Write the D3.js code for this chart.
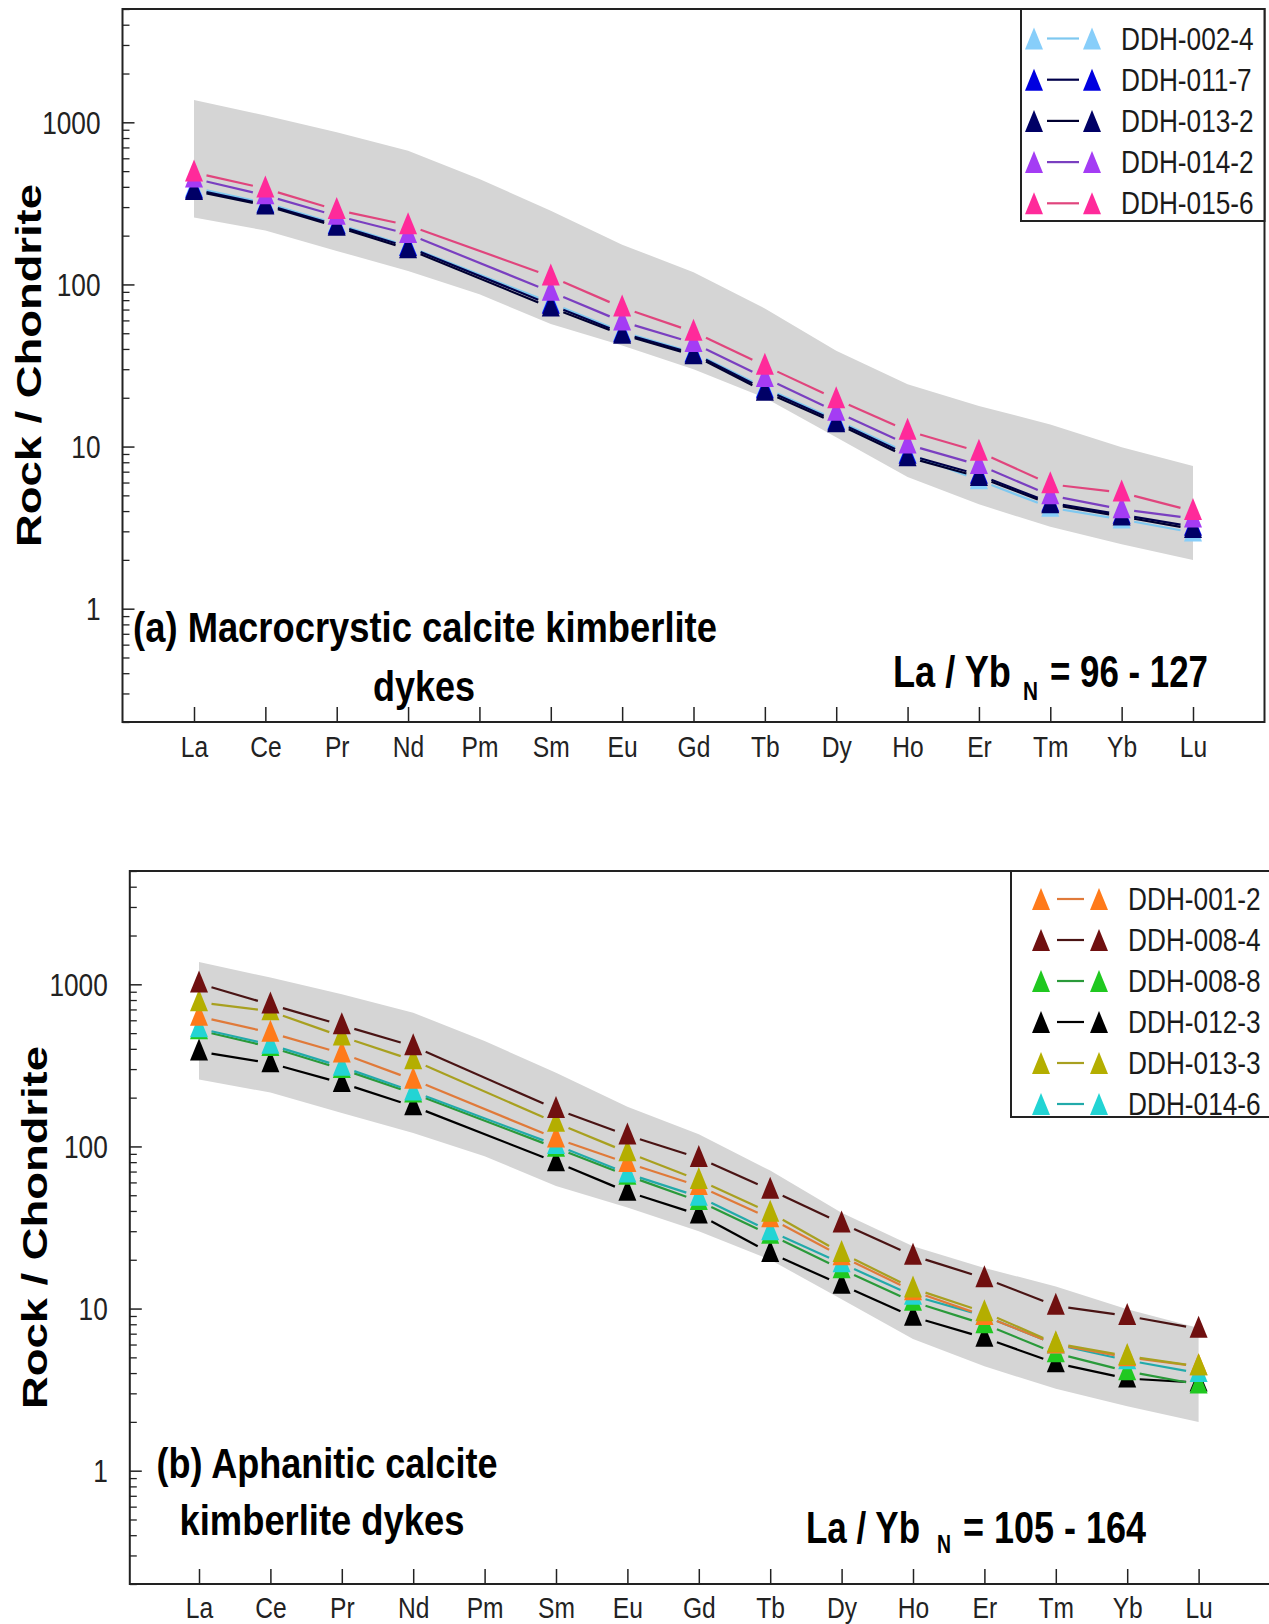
<!DOCTYPE html>
<html><head><meta charset="utf-8">
<script src="https://cdn.jsdelivr.net/npm/d3@7"></script>
<style>body{margin:0;background:#fff}</style>
</head><body>
<svg id="c" width="1269" height="1624"></svg>
<script>
// ---------------- DATA ----------------
const elements = ["La","Ce","Pr","Nd","Pm","Sm","Eu","Gd","Tb","Dy","Ho","Er","Tm","Yb","Lu"];
const yTickValues = [1, 10, 100, 1000];
const yTickLabels = ["1", "10", "100", "1000"];
// kimberlite field (grey band)
const fieldUpper = [1375, 1100, 867, 668, 447, 285, 176, 119, 71, 39, 24.2, 17.8, 13.7, 9.9, 7.6];
const fieldLower = [259, 215, 161, 121, 87, 57, 42, 30, 20, 11.4, 6.5, 4.4, 3.2, 2.5, 2.0];

// panel (a) Macrocrystic calcite kimberlite dykes
const seriesNamesA = ["DDH-002-4", "DDH-011-7", "DDH-013-2", "DDH-014-2", "DDH-015-6"];
const ddh002_4 = [395, 318, 236, 172, null, 77, 51, 38, 23, 14.6, 9.1, 6.2, 4.2, 3.55, 2.95];
const ddh011_7 = [385, 312, 232, 170, null, 75, 50, 37.5, 22.5, 14.3, 8.9, 6.7, 4.5, 3.8, 3.2];
const ddh013_2 = [377, 307, 227, 165, null, 72, 49, 36.6, 21.8, 13.9, 8.6, 6.5, 4.4, 3.7, 3.1];
const ddh014_2 = [450, 355, 265, 205, null, 90, 59, 43.5, 26.5, 16.4, 10.3, 7.7, 5.0, 4.1, 3.6];
const ddh015_6 = [490, 390, 288, 232, null, 112, 72, 51, 31.5, 19.6, 12.5, 9.3, 5.85, 5.2, 4.0];
const ratioTextA = "96 - 127";

// panel (b) Aphanitic calcite kimberlite dykes
const seriesNamesB = ["DDH-001-2", "DDH-008-4", "DDH-008-8", "DDH-012-3", "DDH-013-3", "DDH-014-6"];
const ddh001_2 = [632, 503, 375, 258, null, 112, 79, 57, 36, 21, 12.8, 9.0, 6.0, 5.0, 4.4];
const ddh008_4 = [1010, 750, 560, 415, null, 170, 117, 85, 54, 33.5, 21.2, 15.4, 10.4, 9.0, 7.5];
const ddh008_8 = [520, 410, 300, 212, null, 98, 66, 46, 28.5, 17.5, 11, 8.0, 5.3, 4.1, 3.4];
const ddh012_3 = [385, 326, 246, 177, null, 80, 52.5, 38, 22, 14, 8.9, 6.6, 4.6, 3.7, 3.5];
const ddh013_3 = [774, 682, 476, 340, null, 140, 92, 62, 39, 22, 13.3, 9.5, 6.1, 5.1, 4.4];
const ddh014_6 = [535, 424, 310, 218, null, 102, 68, 49, 30, 19, 12, 9.0, 6.0, 4.8, 4.0];
const ratioTextB = "105 - 164";

// ---------------- STYLE ----------------
const FONT = "'Liberation Sans', Arial, Helvetica, sans-serif";
const SX = 0.82;
const svg = d3.select("#c");

const stylesA = {
  "DDH-002-4": {marker: "#87cefa", line: "#7ec8f0"},
  "DDH-011-7": {marker: "#0000e0", line: "#00004a"},
  "DDH-013-2": {marker: "#000066", line: "#000030"},
  "DDH-014-2": {marker: "#a43cf4", line: "#7a3fc0"},
  "DDH-015-6": {marker: "#ff2a9a", line: "#e0457d"}
};
const stylesB = {
  "DDH-001-2": {marker: "#ff7a1a", line: "#e07a3a"},
  "DDH-008-4": {marker: "#701010", line: "#4a1414"},
  "DDH-008-8": {marker: "#20c820", line: "#2a9a3a"},
  "DDH-012-3": {marker: "#000000", line: "#000000"},
  "DDH-013-3": {marker: "#b4ae00", line: "#a8a020"},
  "DDH-014-6": {marker: "#22d4d4", line: "#22aaaa"}
};

function label(parent, str, x, y, o = {}) {
  const g = parent.append("g").attr("transform", `translate(${x},${y})${o.rotate ? ` rotate(${o.rotate})` : ""}`);
  const t = g.append("text").text(str)
    .attr("font-family", FONT).attr("font-size", o.size || 30)
    .attr("font-weight", o.weight || "normal")
    .attr("text-anchor", o.anchor || "start")
    .attr("fill", o.fill || "#111");
  let s = o.sx || SX;
  if (o.width) { s = o.width / t.node().getComputedTextLength(); }
  t.attr("transform", `scale(${s},1)`);
  return t;
}

const triPath = "M0,-13L9,9L-9,9Z";

function drawPanel(cfg) {
  const g = svg.append("g");
  const x = d3.scalePoint().domain(elements).range([cfg.xFirst, cfg.xLast]);
  const y = d3.scaleLog().domain([0.2, 5000]).range([cfg.bottom, cfg.top]);

  // grey field
  const area = d3.area()
    .x((d, i) => x(elements[i]))
    .y0((d, i) => y(fieldLower[i]))
    .y1((d) => y(d));
  g.append("path").datum(fieldUpper).attr("d", area).attr("fill", "#d5d5d5");

  // frame
  g.append("rect").attr("x", cfg.left).attr("y", cfg.top)
    .attr("width", cfg.right - cfg.left).attr("height", cfg.bottom - cfg.top)
    .attr("fill", "none").attr("stroke", "#222").attr("stroke-width", 2);

  // y axis major ticks
  const yAxis = g.append("g").attr("transform", `translate(${cfg.left},0)`)
    .call(d3.axisLeft(y).tickValues(yTickValues).tickSizeInner(-12).tickSizeOuter(0).tickPadding(22)
      .tickFormat((d, i) => yTickLabels[i]));
  yAxis.select(".domain").remove();
  yAxis.selectAll(".tick line").attr("stroke", "#222").attr("stroke-width", 1.5);
  yAxis.selectAll(".tick text").each(function () {
    const t = d3.select(this);
    const xx = +t.attr("x");
    t.attr("x", null).attr("dy", null)
      .attr("font-family", FONT).attr("font-size", 32).attr("fill", "#222")
      .attr("dominant-baseline", "central")
      .attr("transform", `translate(${xx},0) scale(${SX},1)`);
  });
  // y minor ticks
  const minor = [];
  [0.1, 1, 10, 100, 1000].forEach(dec => {
    for (let k = 2; k <= 9; k++) { const v = k * dec; if (v >= 0.2 && v <= 5000) minor.push(v); }
  });
  const yMinor = g.append("g").attr("transform", `translate(${cfg.left},0)`)
    .call(d3.axisLeft(y).tickValues(minor).tickSizeInner(-7).tickSizeOuter(0).tickFormat(""));
  yMinor.select(".domain").remove();
  yMinor.selectAll(".tick line").attr("stroke", "#222").attr("stroke-width", 1.3);

  // x axis
  const xAxis = g.append("g").attr("transform", `translate(0,${cfg.bottom})`)
    .call(d3.axisBottom(x).tickSizeInner(-15).tickSizeOuter(0).tickPadding(0));
  xAxis.select(".domain").remove();
  xAxis.selectAll(".tick line").attr("stroke", "#222").attr("stroke-width", 1.5);
  xAxis.selectAll(".tick text")
    .attr("y", null).attr("dy", null)
    .attr("font-family", FONT).attr("font-size", 30).attr("fill", "#222")
    .attr("transform", `translate(0,${cfg.xLabelOffset}) scale(${SX},1)`);

  // y label
  label(g, "Rock / Chondrite", cfg.yLabelX, (cfg.top + cfg.bottom) / 2,
    {rotate: -90, size: 36, weight: "bold", anchor: "middle", width: 363, fill: "#000"});

  // series lines (with gaps near markers)
  const gap = 12.5;
  const line = d3.line();
  cfg.drawOrder.forEach(name => {
    const vals = cfg.data[name];
    const pts = elements.map((e, i) => vals[i] == null ? null : [x(e), y(vals[i])]).filter(p => p);
    for (let i = 0; i < pts.length - 1; i++) {
      const [x1, y1] = pts[i], [x2, y2] = pts[i + 1];
      const f = gap / (x2 - x1);
      const seg = [[x1 + (x2 - x1) * f, y1 + (y2 - y1) * f], [x2 - (x2 - x1) * f, y2 - (y2 - y1) * f]];
      g.append("path").attr("d", line(seg)).attr("fill", "none")
        .attr("stroke", cfg.styles[name].line).attr("stroke-width", 2.2);
    }
  });
  // markers
  cfg.drawOrder.forEach(name => {
    const vals = cfg.data[name];
    elements.forEach((e, i) => {
      if (vals[i] == null) return;
      g.append("path").attr("d", triPath)
        .attr("transform", `translate(${x(e)},${y(vals[i])})`)
        .attr("fill", cfg.styles[name].marker);
    });
  });

  // legend
  const L = cfg.legend;
  g.append("rect").attr("x", L.x0).attr("y", cfg.top).attr("width", L.x1 - L.x0).attr("height", L.y1 - cfg.top)
    .attr("fill", "#fff").attr("stroke", "#222").attr("stroke-width", 2);
  cfg.names.forEach((name, i) => {
    const cy = L.first + i * L.step;
    g.append("line").attr("x1", L.lx0).attr("x2", L.lx1).attr("y1", cy).attr("y2", cy)
      .attr("stroke", cfg.styles[name].line).attr("stroke-width", 2.2);
    [L.t1, L.t2].forEach(tx => g.append("path").attr("d", triPath)
      .attr("transform", `translate(${tx},${cy + 2})`).attr("fill", cfg.styles[name].marker));
    label(g, name, L.tx, cy + 11, {size: 32, fill: "#1a1a1a"});
  });

  // annotations
  const A = cfg.ann;
  label(g, A.line1, A.cx, A.y1, {size: 42, weight: "bold", anchor: "middle", width: A.w1, fill: "#000"});
  label(g, A.line2, A.cx2, A.y2, {size: 42, weight: "bold", anchor: "middle", width: A.w2, fill: "#000"});
  label(g, "La / Yb", A.rx0, A.ry, {size: 44, weight: "bold", width: A.rw0, fill: "#000"});
  label(g, "N", A.nx, A.ny, {size: 26, weight: "bold", width: A.nw, fill: "#000"});
  label(g, "= " + cfg.ratioText, A.rx1, A.ry, {size: 44, weight: "bold", width: A.rw1, fill: "#000"});
}

drawPanel({
  left: 122.5, right: 1264.5, top: 9, bottom: 722,
  xFirst: 194, xLast: 1193, xLabelOffset: 35, yLabelX: 41,
  names: seriesNamesA,
  drawOrder: ["DDH-002-4", "DDH-011-7", "DDH-013-2", "DDH-014-2", "DDH-015-6"],
  data: {"DDH-002-4": ddh002_4, "DDH-011-7": ddh011_7, "DDH-013-2": ddh013_2, "DDH-014-2": ddh014_2, "DDH-015-6": ddh015_6},
  styles: stylesA,
  legend: {x0: 1021, x1: 1264.5, y1: 221, first: 38.5, step: 41.2, lx0: 1047, lx1: 1079, t1: 1034, t2: 1092, tx: 1121},
  ann: {line1: "(a) Macrocrystic calcite kimberlite", cx: 425, y1: 642, w1: 584,
        line2: "dykes", cx2: 424, y2: 701, w2: 102,
        rx0: 893, rw0: 118, nx: 1023, ny: 700, nw: 15, rx1: 1050, rw1: 158, ry: 687},
  ratioText: ratioTextA
});

drawPanel({
  left: 129.8, right: 1280, top: 871, bottom: 1584,
  xFirst: 199, xLast: 1198.6, xLabelOffset: 34, yLabelX: 47,
  names: seriesNamesB,
  drawOrder: ["DDH-012-3", "DDH-008-8", "DDH-014-6", "DDH-001-2", "DDH-013-3", "DDH-008-4"],
  data: {"DDH-001-2": ddh001_2, "DDH-008-4": ddh008_4, "DDH-008-8": ddh008_8, "DDH-012-3": ddh012_3, "DDH-013-3": ddh013_3, "DDH-014-6": ddh014_6},
  styles: stylesB,
  legend: {x0: 1011, x1: 1280, y1: 1117, first: 899, step: 41, lx0: 1057, lx1: 1084, t1: 1041, t2: 1099, tx: 1128},
  ann: {line1: "(b) Aphanitic calcite", cx: 327, y1: 1478, w1: 341,
        line2: "kimberlite dykes", cx2: 322, y2: 1535, w2: 285,
        rx0: 806, rw0: 114, nx: 937, ny: 1553, nw: 14, rx1: 963, rw1: 183, ry: 1543},
  ratioText: ratioTextB
});
</script>
</body></html>
